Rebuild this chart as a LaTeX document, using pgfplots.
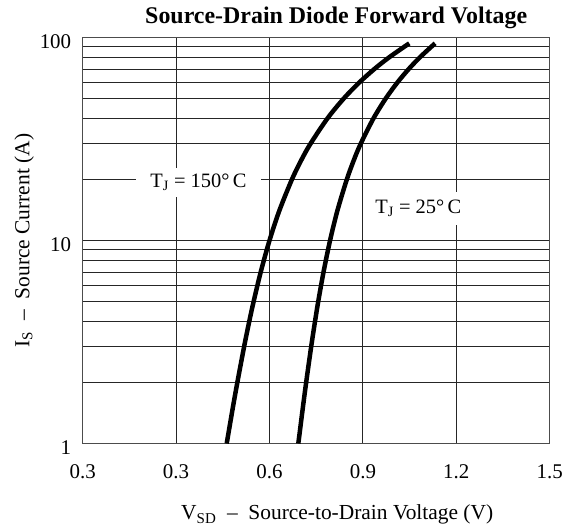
\documentclass[border=0pt]{standalone}
\usepackage{fontspec}
\setmainfont{Liberation Serif}
\usepackage{pgfplots}
\pgfplotsset{compat=1.18}

\begin{document}
\begin{tikzpicture}
\begin{axis}[
    scale only axis,
    width=467bp, height=406bp,
    xmin=0, xmax=1.5,
    ymin=1, ymax=100,
    ymode=log,
    xtick={0,0.3,0.6,0.9,1.2,1.5},
    xticklabels={0.3,0.3,0.6,0.9,1.2,1.5},
    ytick={1,10,100},
    yticklabels={1,10,100},
    minor ytick={2,3,4,5,6,7,8,9,20,30,40,50,60,70,80,90},
    xmajorgrids, ymajorgrids, yminorgrids,
    grid style={black!85, line width=0.8bp},
    minor grid style={black!85, line width=0.8bp},
    tick style={draw=none},
    axis line style={black!70, line width=1.2bp},
    ticklabel style={font=\fontsize{21}{23}\selectfont},
    xticklabel style={yshift=-18bp},
    yticklabel style={yshift=-4bp, xshift=-8bp},
    title={Source-Drain Diode Forward Voltage},
    title style={font=\bfseries\fontsize{24}{26}\selectfont, xshift=20bp, yshift=-1bp},
    xlabel={V\textsubscript{SD} \ –\ \ Source-to-Drain Voltage (V)},
    xlabel style={font=\fontsize{21.5}{23}\selectfont, xshift=21bp, yshift=-19bp},
    ylabel={I\textsubscript{S} \ –\ \ Source Current (A)},
    ylabel style={font=\fontsize{21.5}{23}\selectfont, yshift=-1bp},
]

% T_J = 150 C
\addplot[black, line width=4.5bp, smooth] coordinates {
    (0.4626,1) (0.4822,1.5) (0.4968,2) (0.5185,3) (0.5351,4) (0.5490,5)
    (0.5719,7) (0.6000,10) (0.6314,14) (0.6721,20) (0.7028,25) (0.7318,30)
    (0.7864,40) (0.8382,50) (0.8882,60) (0.9370,70) (0.9849,80) (1.049,93.6)
};

% T_J = 25 C
\addplot[black, line width=4.5bp, smooth] coordinates {
    (0.6926,1) (0.7071,1.5) (0.7178,2) (0.7339,3) (0.7463,4) (0.7565,5)
    (0.7736,7) (0.7945,10) (0.8179,14) (0.8484,20) (0.8714,25) (0.8931,30)
    (0.9341,40) (0.9731,50) (1.0107,60) (1.0474,70) (1.0835,80) (1.1318,93.6)
};

\node[fill=white, inner xsep=14bp, inner ysep=6bp, font=\fontsize{20.5}{22}\selectfont]
    at (axis cs:0.372,19.3) {T\textsubscript{J} = 150°\,C};
\node[fill=white, inner xsep=12bp, inner ysep=8bp, font=\fontsize{20.5}{22}\selectfont]
    at (axis cs:1.078,14.4) {T\textsubscript{J} = 25°\,C};

\coordinate (bl) at (rel axis cs:-0.177,-0.2057);
\coordinate (tr) at (rel axis cs:1.0456,1.0924);
\end{axis}
\pgfresetboundingbox
\path[use as bounding box] (bl) rectangle (tr);
\end{tikzpicture}
\end{document}
